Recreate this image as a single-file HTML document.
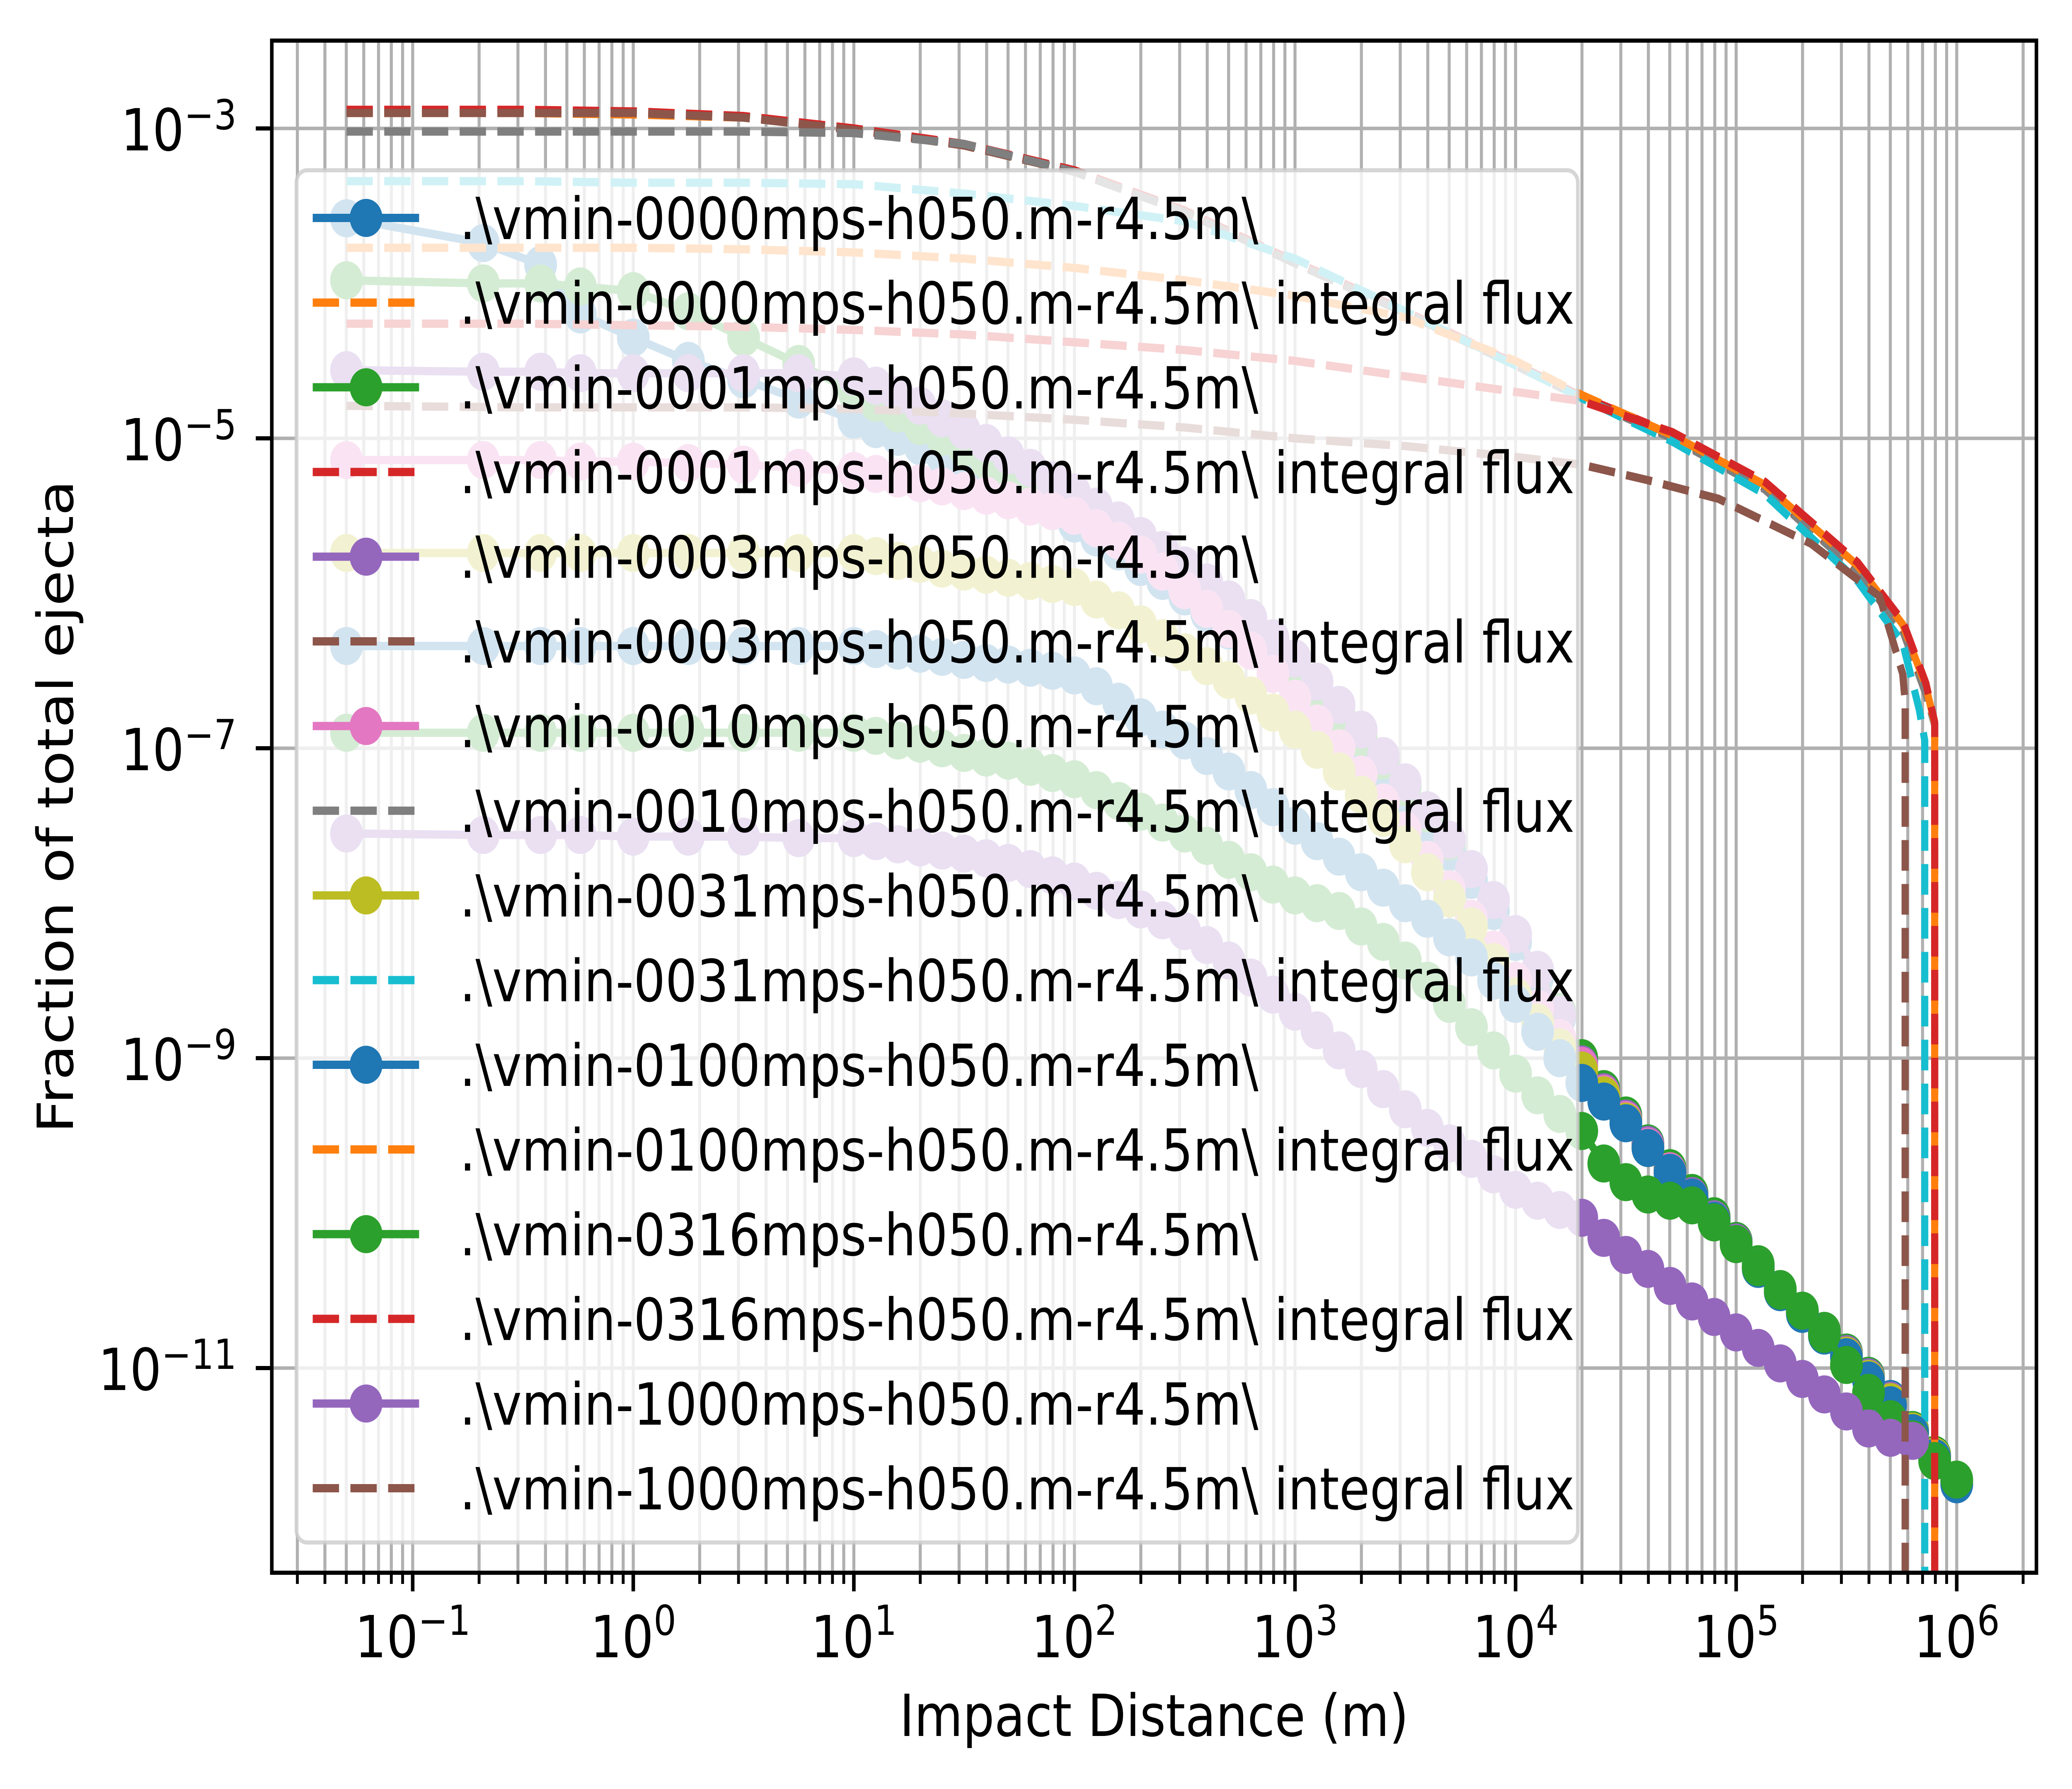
<!DOCTYPE html>
<html><head><meta charset="utf-8"><style>
html,body{margin:0;padding:0;background:#fff;overflow:hidden;width:100%;height:100%;}
svg{display:block;width:100vw;height:100vh;font-family:"DejaVu Sans","Liberation Sans",sans-serif;}
</style></head><body>
<svg id="chart" xmlns="http://www.w3.org/2000/svg" viewBox="0 0 5824 4318" preserveAspectRatio="none">
<rect x="0" y="0" width="5824" height="4318" fill="#fff"/>
<defs><clipPath id="plotclip"><rect x="764" y="98" width="4960" height="3698"/></clipPath></defs>
<g id="grid"></g>
<g id="series" clip-path="url(#plotclip)"></g>
<g id="legend"></g>
<g id="axes"></g>
<text x="3244" y="4190" font-size="140" text-anchor="middle">Impact Distance (m)</text>
<text x="205" y="1947" font-size="140" text-anchor="middle" transform="rotate(-90 205 1947)">Fraction of total ejecta</text>
</svg>
<script>
// ---- data (log10 values) ----
const logDist = [-1.3,-0.68,-0.42,-0.24,0,0.25,0.5,0.75,
1.0,1.1,1.2,1.3,1.4,1.5,1.6,1.7,1.8,1.9,2.0,2.1,2.2,2.3,2.4,2.5,2.6,2.7,2.8,2.9,3.0,3.1,3.2,3.3,3.4,3.5,3.6,3.7,3.8,3.9,4.0,4.1,4.2,4.3,4.4,4.5,4.6,4.7,4.8,4.9,5.0,5.1,5.2,5.3,5.4,5.5,5.6,5.7,5.8,5.9,6.0];
const s0000 = [-3.58,-3.74,-3.88,-4.2,-4.35,-4.5,-4.62,-4.75,
-4.88,-4.94,-4.99,-5.05,-5.11,-5.18,-5.25,-5.32,-5.39,-5.47,-5.55,-5.64,-5.73,-5.83,-5.92,-6.02,-6.13,-6.24,-6.36,-6.48,-6.6,-6.74,-6.88,-7.03,-7.18,-7.34,-7.5,-7.67,-7.85,-8.05,-8.25,-8.48,-8.74,-9.02,-9.21,-9.38,-9.55,-9.72,-9.88,-10.03,-10.18,-10.34,-10.5,-10.63,-10.77,-10.9,-11.05,-11.2,-11.4,-11.56,-11.73];
const s0001 = [-3.98,-4.0,-4.0,-4.02,-4.05,-4.18,-4.35,-4.52,
-4.7,-4.77,-4.84,-4.92,-4.99,-5.06,-5.14,-5.21,-5.29,-5.37,-5.45,-5.54,-5.63,-5.73,-5.82,-5.92,-6.03,-6.14,-6.26,-6.38,-6.5,-6.64,-6.78,-6.93,-7.08,-7.25,-7.42,-7.6,-7.78,-7.98,-8.2,-8.43,-8.7,-9.0,-9.2,-9.37,-9.55,-9.71,-9.87,-10.02,-10.18,-10.33,-10.49,-10.63,-10.76,-10.9,-11.05,-11.21,-11.4,-11.56,-11.73];
const s0003 = [-4.56,-4.57,-4.57,-4.58,-4.58,-4.58,-4.58,-4.58,
-4.6,-4.66,-4.72,-4.79,-4.87,-4.95,-5.03,-5.11,-5.19,-5.27,-5.35,-5.44,-5.53,-5.63,-5.72,-5.82,-5.93,-6.04,-6.16,-6.29,-6.42,-6.57,-6.72,-6.88,-7.05,-7.22,-7.4,-7.59,-7.78,-7.98,-8.2,-8.43,-8.72,-9.04,-9.22,-9.39,-9.56,-9.73,-9.89,-10.04,-10.19,-10.35,-10.5,-10.64,-10.78,-10.91,-11.06,-11.21,-11.41,-11.57,-11.74];
const s0010 = [-5.14,-5.14,-5.14,-5.15,-5.15,-5.16,-5.17,-5.19,
-5.21,-5.23,-5.26,-5.29,-5.31,-5.34,-5.37,-5.4,-5.44,-5.47,-5.5,-5.58,-5.66,-5.75,-5.86,-5.98,-6.1,-6.23,-6.37,-6.52,-6.68,-6.84,-7.0,-7.17,-7.35,-7.53,-7.72,-7.91,-8.1,-8.3,-8.5,-8.68,-8.87,-9.05,-9.23,-9.4,-9.57,-9.73,-9.9,-10.05,-10.2,-10.35,-10.51,-10.64,-10.78,-10.92,-11.07,-11.22,-11.41,-11.57,-11.75];
const s0031 = [-5.74,-5.74,-5.74,-5.74,-5.74,-5.74,-5.74,-5.74,
-5.74,-5.76,-5.79,-5.81,-5.84,-5.86,-5.88,-5.9,-5.92,-5.94,-5.96,-6.04,-6.11,-6.2,-6.29,-6.38,-6.47,-6.56,-6.66,-6.77,-6.88,-7.01,-7.15,-7.3,-7.45,-7.62,-7.8,-7.97,-8.15,-8.38,-8.6,-8.77,-8.93,-9.08,-9.24,-9.41,-9.58,-9.74,-9.9,-10.05,-10.2,-10.36,-10.51,-10.65,-10.79,-10.92,-11.07,-11.22,-11.41,-11.57,-11.73];
const s0100 = [-6.34,-6.34,-6.34,-6.34,-6.34,-6.34,-6.34,-6.34,
-6.34,-6.36,-6.37,-6.39,-6.41,-6.43,-6.45,-6.46,-6.48,-6.5,-6.53,-6.6,-6.7,-6.8,-6.88,-6.95,-7.05,-7.15,-7.27,-7.38,-7.5,-7.6,-7.7,-7.8,-7.9,-8.0,-8.1,-8.22,-8.35,-8.5,-8.65,-8.83,-9.0,-9.16,-9.28,-9.42,-9.58,-9.74,-9.9,-10.05,-10.2,-10.36,-10.51,-10.65,-10.79,-10.93,-11.08,-11.24,-11.42,-11.58,-11.75];
const s0316 = [-6.9,-6.9,-6.9,-6.9,-6.9,-6.9,-6.9,-6.9,
-6.9,-6.92,-6.95,-6.97,-7.0,-7.03,-7.06,-7.08,-7.12,-7.16,-7.2,-7.27,-7.34,-7.41,-7.48,-7.55,-7.63,-7.72,-7.8,-7.88,-7.95,-8.0,-8.05,-8.15,-8.25,-8.37,-8.5,-8.65,-8.8,-8.95,-9.1,-9.24,-9.36,-9.47,-9.68,-9.8,-9.88,-9.92,-9.95,-10.06,-10.2,-10.35,-10.5,-10.63,-10.78,-10.98,-11.16,-11.33,-11.46,-11.6,-11.72];
const s1000 = [-7.55,-7.56,-7.56,-7.56,-7.57,-7.57,-7.57,-7.58,
-7.58,-7.6,-7.62,-7.64,-7.66,-7.68,-7.71,-7.74,-7.78,-7.82,-7.86,-7.92,-7.98,-8.04,-8.11,-8.18,-8.27,-8.37,-8.48,-8.59,-8.7,-8.82,-8.95,-9.07,-9.2,-9.33,-9.45,-9.55,-9.65,-9.75,-9.85,-9.92,-9.98,-10.03,-10.16,-10.27,-10.36,-10.47,-10.57,-10.67,-10.77,-10.87,-10.97,-11.07,-11.17,-11.28,-11.39,-11.45,-11.47,null,null];

const fluxDistA = [-1.3,-0.5,0,0.5,1,1.5,2,2.5,3,3.5,4,4.3,4.71,5.13,5.55,5.755,5.86,5.9,5.9];
const fluxDistCyan = [-1.3,-0.5,0,0.5,1,1.5,2,2.5,3,3.5,4,4.3,4.71,5.13,5.55,5.755,5.83,5.855,5.855];
const fluxDist1000 = [-1.3,-0.5,0,0.5,1,1.5,2,2.5,3,3.5,4,4.3,4.6,4.92,5.34,5.65,5.755,5.766,5.766];
const f0000 = [-2.9,-2.9,-2.91,-2.93,-3.0,-3.11,-3.28,-3.54,-3.87,-4.19,-4.53,-4.74,-4.99,-5.32,-5.86,-6.24,-6.65,-6.84,-12.6];
const f0001 = [-2.88,-2.88,-2.89,-2.92,-3.0,-3.1,-3.27,-3.53,-3.86,-4.18,-4.52,-4.73,-4.97,-5.29,-5.8,-6.18,-6.58,-6.84,-12.6];
const f0003 = [-2.9,-2.9,-2.9,-2.93,-3.01,-3.11,-3.28,-3.54,-3.87,-4.19,-4.53,-4.74,-4.99,-5.32,-5.85,-6.23,-6.64,-6.85,-12.6];
const f0010 = [-3.02,-3.02,-3.02,-3.02,-3.03,-3.1,-3.28,-3.54,-3.87,-4.19,-4.53,-4.74,-5.0,-5.33,-5.86,-6.24,-6.65,-6.85,-12.6];
const f0031 = [-3.34,-3.34,-3.35,-3.35,-3.36,-3.42,-3.5,-3.6,-3.84,-4.18,-4.53,-4.74,-5.02,-5.36,-5.92,-6.32,-6.75,-6.95,-12.6];
const f0100 = [-3.77,-3.77,-3.77,-3.78,-3.8,-3.84,-3.9,-3.98,-4.08,-4.22,-4.5,-4.72,-4.98,-5.3,-5.82,-6.2,-6.6,-6.84,-12.6];
const f0316 = [-4.26,-4.26,-4.27,-4.28,-4.3,-4.33,-4.38,-4.43,-4.5,-4.6,-4.7,-4.76,-4.96,-5.28,-5.8,-6.18,-6.58,-6.83,-12.6];
const f1000 = [-4.79,-4.8,-4.8,-4.8,-4.81,-4.84,-4.88,-4.93,-5.0,-5.05,-5.12,-5.17,-5.27,-5.39,-5.68,-6.02,-6.52,-6.7,-12.6];

const legendLabels = [".\\vmin-0000mps-h050.m-r4.5m\\",".\\vmin-0000mps-h050.m-r4.5m\\ integral flux",
".\\vmin-0001mps-h050.m-r4.5m\\",".\\vmin-0001mps-h050.m-r4.5m\\ integral flux",
".\\vmin-0003mps-h050.m-r4.5m\\",".\\vmin-0003mps-h050.m-r4.5m\\ integral flux",
".\\vmin-0010mps-h050.m-r4.5m\\",".\\vmin-0010mps-h050.m-r4.5m\\ integral flux",
".\\vmin-0031mps-h050.m-r4.5m\\",".\\vmin-0031mps-h050.m-r4.5m\\ integral flux",
".\\vmin-0100mps-h050.m-r4.5m\\",".\\vmin-0100mps-h050.m-r4.5m\\ integral flux",
".\\vmin-0316mps-h050.m-r4.5m\\",".\\vmin-0316mps-h050.m-r4.5m\\ integral flux",
".\\vmin-1000mps-h050.m-r4.5m\\",".\\vmin-1000mps-h050.m-r4.5m\\ integral flux"];
const xTickExps = [-1,0,1,2,3,4,5,6];
const yTickExps = [-3,-5,-7,-9,-11];

// ---- axes ----
const L=764,R=5724,T=98,B=3796;
function X(lx){return 5500+620*(lx-6);}
function Y(ly){return 310+374*(-3-ly);}
const NS="http://www.w3.org/2000/svg";
function el(tag,attrs,parent){const e=document.createElementNS(NS,tag);for(const k in attrs)e.setAttribute(k,attrs[k]);parent.appendChild(e);return e;}
const grid=document.getElementById('grid'),axes=document.getElementById('axes'),ser=document.getElementById('series'),leg=document.getElementById('legend');

for(let k=-2;k<=6;k++){for(let m=1;m<=9;m++){
  const lx=k+Math.log10(m); const x=X(lx);
  if(x<L||x>R)continue;
  const g=el('line',{x1:x,x2:x,y1:T,y2:B,stroke:'#b0b0b0','stroke-width':8.5},grid);
  
  
  const t=el('line',{x1:x,x2:x,y1:B,y2:B+(m===1?45:27),stroke:'#000','stroke-width':m===1?10:8},axes);
  
  
}}
xTickExps.forEach(e=>{
  const x=X(e);
  const txt=el('text',{x:x,y:4000,'font-size':140,'text-anchor':'middle'},axes);
  
  
  txt.appendChild(document.createTextNode('10'));
  const sp=el('tspan',{'font-size':100,dy:-54},txt);
  sp.textContent=(e<0?'\u2212':'')+Math.abs(e);
});
yTickExps.forEach(e=>{
  const y=Y(e);
  const g=el('line',{x1:L,x2:R,y1:y,y2:y,stroke:'#b0b0b0','stroke-width':8.5},grid);
  
  
  const t=el('line',{x1:L-45,x2:L,y1:y,y2:y,stroke:'#000','stroke-width':10},axes);
  
  
  const txt=el('text',{x:665,y:y+53,'font-size':140,'text-anchor':'end'},axes);
  
  
  txt.appendChild(document.createTextNode('10'));
  const sp=el('tspan',{'font-size':100,dy:-51},txt);
  sp.textContent='\u2212'+Math.abs(e);
});
const frame=el('rect',{x:L,y:T,width:R-L,height:B-T,fill:'none',stroke:'#000','stroke-width':10},axes);



// ---- series ----
const C={blue:'#1f77b4',orange:'#ff7f0e',green:'#2ca02c',red:'#d62728',purple:'#9467bd',brown:'#8c564b',pink:'#e377c2',gray:'#7f7f7f',olive:'#bcbd22',cyan:'#17becf'};
const scatterSeries=[[s0000,C.blue,'series-0000'],[s0001,C.green,'series-0001'],[s0003,C.purple,'series-0003'],[s0010,C.pink,'series-0010'],[s0031,C.olive,'series-0031'],[s0100,C.blue,'series-0100'],[s0316,C.green,'series-0316'],[s1000,C.purple,'series-1000']];
const fluxSeries=[[fluxDistA,f0000,C.orange,'flux-0000'],[fluxDistA,f0001,C.red,'flux-0001'],[fluxDistA,f0003,C.brown,'flux-0003'],[fluxDistA,f0010,C.gray,'flux-0010'],[fluxDistCyan,f0031,C.cyan,'flux-0031'],[fluxDistA,f0100,C.orange,'flux-0100'],[fluxDistA,f0316,C.red,'flux-0316'],[fluxDist1000,f1000,C.brown,'flux-1000']];
for(let i=0;i<8;i++){
  const [ys,col,name]=scatterSeries[i];
  const g=el('g',{},ser);
  
  
  let d='';
  ys.forEach((v,j)=>{if(v===null)return;d+=(d?'L':'M')+X(logDist[j]).toFixed(1)+' '+Y(v).toFixed(1);});
  el('path',{d:d,fill:'none',stroke:col,'stroke-width':20,'stroke-linejoin':'round'},g);
  ys.forEach((v,j)=>{if(v===null)return;
    const c=el('circle',{cx:X(logDist[j]).toFixed(1),cy:Y(v).toFixed(1),r:46,fill:col},g);
    
    
  });
  const [fx,fy,fc,fname]=fluxSeries[i];
  let fd='';
  fy.forEach((v,j)=>{fd+=(fd?'L':'M')+X(fx[j]).toFixed(1)+' '+Y(v).toFixed(1);});
  const p=el('path',{d:fd,fill:'none',stroke:fc,'stroke-width':20,'stroke-dasharray':'74 32','stroke-linejoin':'round'},ser);
  
  
}

// ---- legend ----
const lb=el('rect',{x:833,y:411,width:3602,height:3312,rx:30,fill:'#fff','fill-opacity':0.8,stroke:'#cccccc','stroke-opacity':0.8,'stroke-width':10},leg);


legendLabels.forEach((lab,i)=>{
  const cy=526+i*204.4;
  const g=el('g',{},leg);
  
  
  const k=Math.floor(i/2);
  if(i%2===0){
    const col=scatterSeries[k][1];
    el('line',{x1:879,x2:1178,y1:cy,y2:cy,stroke:col,'stroke-width':20},g);
    el('circle',{cx:1029,cy:cy,r:46,fill:col},g);
  }else{
    const col=fluxSeries[k][2];
    el('line',{x1:879,x2:1178,y1:cy,y2:cy,stroke:col,'stroke-width':20,'stroke-dasharray':'74 32'},g);
  }
  const t=el('text',{x:1292,y:cy+51,'font-size':140},g);
  t.textContent=lab;
});
</script>
</body></html>
